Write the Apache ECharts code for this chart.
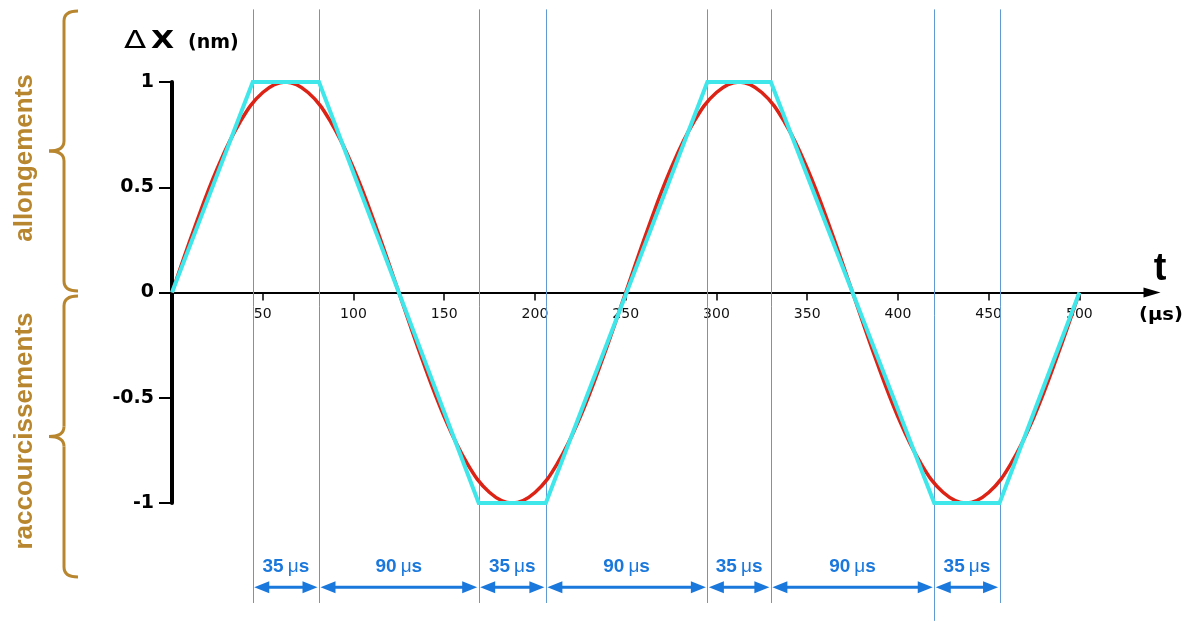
<!DOCTYPE html>
<html>
<head>
<meta charset="utf-8">
<script src="https://cdn.jsdelivr.net/npm/echarts@6/dist/echarts.min.js"></script>
<style>
  html, body { margin: 0; padding: 0; background: #fff; }
  #chart { width: 1194px; height: 622px; }
</style>
</head>
<body>
<div id="chart"></div>
<script>
// Time axis ticks (µs)
const timeTicks = [50, 100, 150, 200, 250, 300, 350, 400, 450, 500];

// Sinusoidal displacement, sampled every 12.5 µs (nm)
const sineTimes = [0, 12.5, 25, 37.5, 50, 62.5, 75, 87.5, 100, 112.5,
  125, 137.5, 150, 162.5, 175, 187.5, 200, 212.5, 225, 237.5,
  250, 262.5, 275, 287.5, 300, 312.5, 325, 337.5, 350, 362.5,
  375, 387.5, 400, 412.5, 425, 437.5, 450, 462.5, 475, 487.5, 500];
const sineValues = [0, 0.31, 0.59, 0.81, 0.95, 1, 0.95, 0.81, 0.59, 0.31,
  0, -0.31, -0.59, -0.81, -0.95, -1, -0.95, -0.81, -0.59, -0.31,
  0, 0.31, 0.59, 0.81, 0.95, 1, 0.95, 0.81, 0.59, 0.31,
  0, -0.31, -0.59, -0.81, -0.95, -1, -0.95, -0.81, -0.59, -0.31, 0];

// Trapezoidal approximation (corner times in µs, values in nm)
const trapTimes = [0, 44.5, 81, 169, 206, 295, 330, 420, 456, 500];
const trapValues = [0, 1, 1, -1, -1, 1, 1, -1, -1, 0];

// Phase boundaries (vertical guides) and phase durations
const phaseBounds = [44.5, 81, 169, 206, 295, 330, 420, 456];
const phaseLabels = ['35', '90', '35', '90', '35', '90', '35'];

const FONT = '"Liberation Sans", Arial, Helvetica, sans-serif';
const WIDE = '"DejaVu Sans", Verdana, sans-serif';
const BROWN = '#b8862e';
const ARROW = '#1a78dc';
const GUIDE = '#5f9bd1';

const GRID_TOP = 82;
const GRID_BOTTOM = 119;
const CHART_H = 622;

// levels (in nm units) used to place guides and duration arrows beyond the plot
const guideTop = 1.345;
const guideBottom = -1.475;
const guideBottomLong = -1.56;
const arrowLevel = -1.40;
const labelLevel = -1.305;

const sineData = sineTimes.map((t, i) => [t, sineValues[i]]);
const trapData = trapTimes.map((t, i) => [t, trapValues[i]]);
const guideData = phaseBounds.map((t, i) => [t, i === 6 ? guideBottomLong : guideBottom]);
const segData = phaseLabels.map((lab, i) => [phaseBounds[i], phaseBounds[i + 1]]);

// curly brace built from quadratic curves and straight runs
function brace(top, bottom, spineX, endX, tipX, r) {
  const mid = (top + bottom) / 2;
  const st = { stroke: BROWN, lineWidth: 3, fill: null };
  return [
    { type: 'bezierCurve', shape: { x1: endX, y1: top, cpx1: spineX, cpy1: top, x2: spineX, y2: top + r }, style: st },
    { type: 'line', shape: { x1: spineX, y1: top + r, x2: spineX, y2: mid - r }, style: st },
    { type: 'bezierCurve', shape: { x1: spineX, y1: mid - r, cpx1: spineX, cpy1: mid, x2: tipX, y2: mid }, style: st },
    { type: 'bezierCurve', shape: { x1: tipX, y1: mid, cpx1: spineX, cpy1: mid, x2: spineX, y2: mid + r }, style: st },
    { type: 'line', shape: { x1: spineX, y1: mid + r, x2: spineX, y2: bottom - r }, style: st },
    { type: 'bezierCurve', shape: { x1: spineX, y1: bottom - r, cpx1: spineX, cpy1: bottom, x2: endX, y2: bottom }, style: st }
  ];
}

const chart = echarts.init(document.getElementById('chart'), null, { renderer: 'canvas' });

// the time axis runs through y = 0, i.e. half the plot height above the bottom edge
const xAxisOffset = -(CHART_H - GRID_TOP - GRID_BOTTOM) / 2;

chart.setOption({
  animation: false,
  backgroundColor: '#ffffff',
  grid: { left: 172, right: 42, top: GRID_TOP, bottom: GRID_BOTTOM, containLabel: false },
  xAxis: {
    type: 'value',
    min: 0,
    max: 540,
    interval: 50,
    offset: xAxisOffset,
    axisLine: {
      onZero: false,
      symbol: ['none', 'triangle'],
      symbolSize: [10, 17],
      lineStyle: { color: '#000', width: 2 }
    },
    axisTick: {
      show: true,
      customValues: timeTicks,
      length: 8,
      lineStyle: { color: '#000', width: 1.5 }
    },
    axisLabel: {
      customValues: timeTicks,
      color: '#111',
      fontSize: 14,
      fontFamily: WIDE,
      margin: 15
    },
    splitLine: { show: false }
  },
  yAxis: {
    type: 'value',
    min: -1,
    max: 1,
    interval: 0.5,
    axisLine: { show: true, onZero: false, lineStyle: { color: '#000', width: 4 } },
    axisTick: { show: true, length: 13, lineStyle: { color: '#000', width: 2 } },
    axisLabel: {
      color: '#000',
      fontSize: 19,
      fontWeight: 'bold',
      fontFamily: WIDE,
      margin: 18
    },
    splitLine: { show: false }
  },
  graphic: [
    ...brace(11, 291, 64, 78, 49, 10),
    ...brace(296, 577, 64, 78, 49, 10),
    {
      type: 'text', x: 25, y: 158, rotation: Math.PI / 2,
      style: { text: 'allongements', fill: BROWN, font: 'bold 26px ' + FONT, align: 'center', verticalAlign: 'middle' }
    },
    {
      type: 'text', x: 25, y: 431, rotation: Math.PI / 2,
      style: { text: 'raccourcissements', fill: BROWN, font: 'bold 26px ' + FONT, align: 'center', verticalAlign: 'middle' }
    },
    {
      type: 'text', x: 124, y: 41, scaleX: 1.3,
      style: { text: 'Δ', fill: '#000', font: '25px ' + WIDE, align: 'left', verticalAlign: 'middle' }
    },
    {
      type: 'text', x: 151, y: 41, scaleX: 1.2,
      style: { text: 'X', fill: '#000', font: 'bold 25px ' + WIDE, align: 'left', verticalAlign: 'middle' }
    },
    {
      type: 'text', x: 188, y: 43.5,
      style: { text: '(nm)', fill: '#000', font: 'bold 19px ' + WIDE, align: 'left', verticalAlign: 'middle' }
    },
    {
      type: 'text', x: 1160, y: 270,
      style: { text: 't', fill: '#000', font: 'bold 38px ' + FONT, align: 'center', verticalAlign: 'middle' }
    },
    {
      type: 'text', x: 1139, y: 316, scaleX: 1.15,
      style: { text: '(μs)', fill: '#000', font: 'bold 17px ' + WIDE, align: 'left', verticalAlign: 'middle' }
    }
  ],
  series: [
    {
      // vertical phase guides
      type: 'custom',
      name: 'guides',
      silent: true,
      z: 1,
      data: guideData,
      renderItem: function (params, api) {
        const t = api.value(0);
        const p0 = api.coord([t, guideTop]);
        const p1 = api.coord([t, api.value(1)]);
        const x = Math.round(p0[0]) + 0.5;
        return {
          type: 'line',
          shape: { x1: x, y1: p0[1], x2: x, y2: p1[1] },
          style: { stroke: GUIDE, lineWidth: 1 }
        };
      }
    },
    {
      type: 'line',
      name: 'sinus',
      data: sineData,
      smooth: 0.4,
      showSymbol: false,
      z: 3,
      lineStyle: { color: '#dc2315', width: 3.5 }
    },
    {
      type: 'line',
      name: 'trapèze',
      data: trapData,
      showSymbol: false,
      z: 4,
      lineStyle: { color: '#3fe6ea', width: 4, join: 'miter' }
    },
    {
      // duration arrows with labels
      type: 'custom',
      name: 'durées',
      silent: true,
      z: 5,
      data: segData,
      renderItem: function (params, api) {
        const t0 = api.value(0), t1 = api.value(1);
        const a = api.coord([t0, arrowLevel]);
        const b = api.coord([t1, arrowLevel]);
        const c = api.coord([(t0 + t1) / 2, labelLevel]);
        const y = a[1];
        const xl = a[0] + 1.5, xr = b[0] - 1.5;
        const hl = 15, hw = 6;
        const lab = phaseLabels[params.dataIndex];
        return {
          type: 'group',
          children: [
            { type: 'line', shape: { x1: xl + hl - 3, y1: y, x2: xr - hl + 3, y2: y }, style: { stroke: ARROW, lineWidth: 3 } },
            { type: 'polygon', shape: { points: [[xl, y], [xl + hl, y - hw], [xl + hl, y + hw]] }, style: { fill: ARROW } },
            { type: 'polygon', shape: { points: [[xr, y], [xr - hl, y - hw], [xr - hl, y + hw]] }, style: { fill: ARROW } },
            {
              type: 'text', x: c[0], y: c[1],
              style: {
                text: '{n|' + lab + '}{m|μ}{n|s}',
                align: 'center', verticalAlign: 'middle',
                rich: {
                  n: { fill: ARROW, fontSize: 19, fontWeight: 'bold', fontFamily: FONT },
                  m: { fill: ARROW, fontSize: 19, fontWeight: 'normal', fontFamily: FONT, padding: [0, 0, 0, 4] }
                }
              }
            }
          ]
        };
      }
    }
  ]
});
</script>
</body>
</html>
